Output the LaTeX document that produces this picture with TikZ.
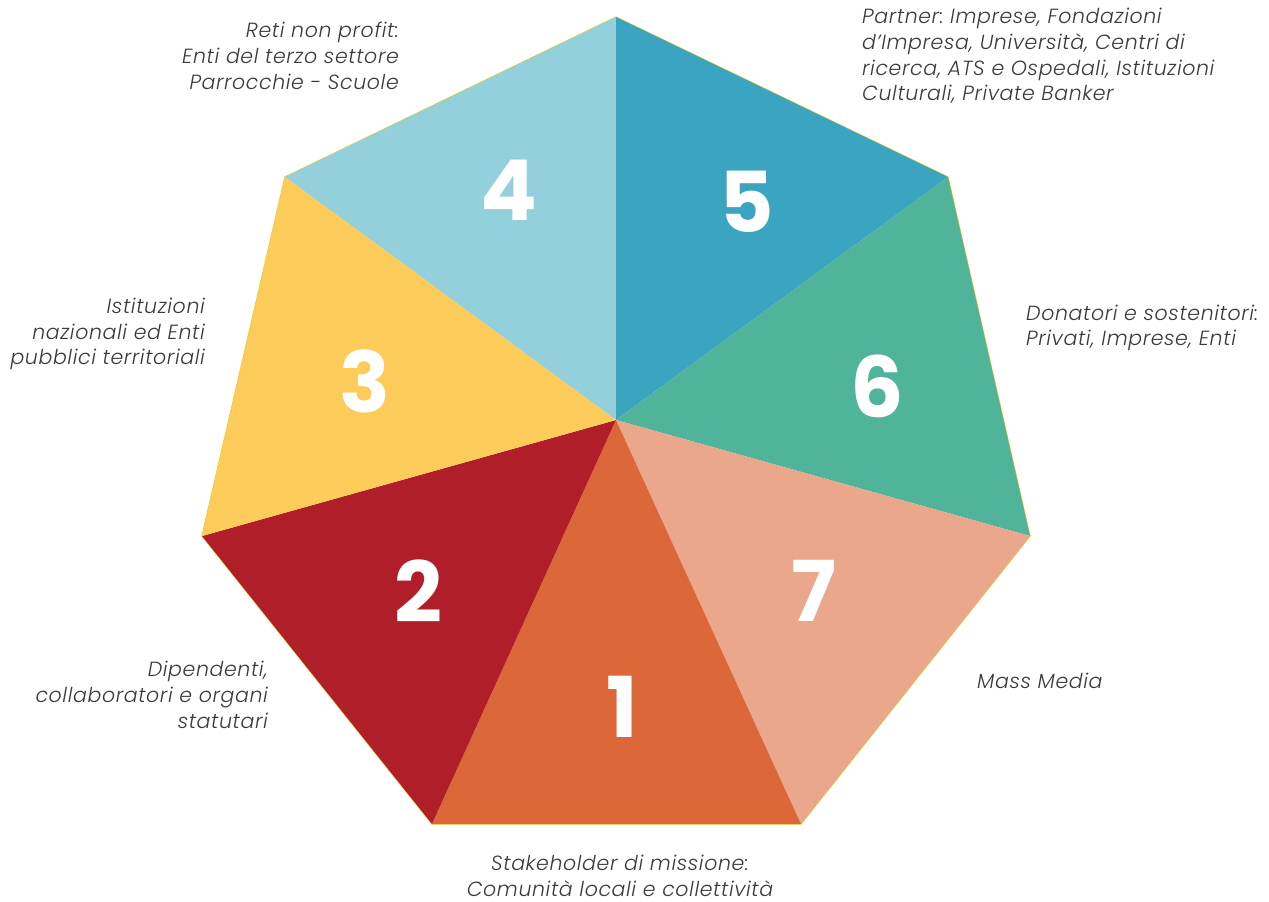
\documentclass[tikz,border=0pt]{standalone}
\usepackage{fontspec}
\setmainfont{Poppins}[ItalicFont={Poppins Light Italic},ItalicFeatures={LetterSpace=3}]
\newfontfamily\numfont{Poppins}[UprightFont={Poppins Bold}]
\frenchspacing
\definecolor{cfour}{HTML}{93D0DB}
\definecolor{cfive}{HTML}{3BA5C1}
\definecolor{csix}{HTML}{50B49B}
\definecolor{cseven}{HTML}{EAA78C}
\definecolor{cone}{HTML}{DC6839}
\definecolor{ctwo}{HTML}{B01F29}
\definecolor{cthree}{HTML}{FDCB5A}
\definecolor{edgey}{HTML}{E6D02A}
\definecolor{txt}{HTML}{3A3A3A}
\begin{document}
\begin{tikzpicture}[x=1pt,y=-1pt,
  num/.style={text=white,font=\numfont\fontsize{84}{84}\selectfont,inner sep=0pt},
  lbl/.style={text=txt,font=\itshape\fontsize{20.5}{25.7}\selectfont,inner sep=0pt},
  rim/.style={draw=edgey,line width=1.2pt,line join=miter}]
\useasboundingbox (0,0) rectangle (1269,902);
\coordinate (O) at (616,420);
\coordinate (V0) at (616,17);
\coordinate (V1) at (948,177);
\coordinate (V2) at (1030,536);
\coordinate (V3) at (801,824);
\coordinate (V4) at (432,824);
\coordinate (V5) at (202,536);
\coordinate (V6) at (285,177);
\draw[rim] (V0) -- (V1) -- (V2) -- (V3) -- (V4) -- (V5) -- (V6) -- cycle;
\fill[cfour] (O) -- (V6) -- (V0) -- cycle;
\fill[cfive] (O) -- (V0) -- (V1) -- cycle;
\fill[csix] (O) -- (V1) -- (V2) -- cycle;
\fill[cseven] (O) -- (V2) -- (V3) -- cycle;
\fill[cone] (O) -- (V3) -- (V4) -- cycle;
\fill[ctwo] (O) -- (V4) -- (V5) -- cycle;
\fill[cthree] (O) -- (V5) -- (V6) -- cycle;
\node[num] (n4) at (509,190) {4};
\node[num] (n5) at (747,202) {5};
\node[num] (n6) at (877,386) {6};
\node[num] (n7) at (814,591) {7};
\node[num] (n1) at (622,707) {1};
\node[num] (n2) at (418,591) {2};
\node[num] (n3) at (365,381) {3};
\node[lbl,align=right,anchor=east] (l4) at (399,56) {Reti non profit:\\Enti del terzo settore\\Parrocchie - Scuole};
\node[lbl,align=left,anchor=west] (l5) at (862,56) {Partner: Imprese, Fondazioni\\d’Impresa, Università, Centri di\\ricerca, ATS e Ospedali, Istituzioni\\Culturali, Private Banker};
\node[lbl,align=left,anchor=west] (l6) at (1026,328) {Donatori e sostenitori:\\Privati, Imprese, Enti};
\node[lbl,align=left,anchor=west] (l7) at (977,681) {Mass Media};
\node[lbl,align=center,anchor=center] (l1) at (620,876) {Stakeholder di missione:\\Comunità locali e collettività};
\node[lbl,align=right,anchor=east] (l2) at (268,695) {Dipendenti,\\collaboratori e organi\\statutari};
\node[lbl,align=right,anchor=east] (l3) at (205,334) {Istituzioni\\nazionali ed Enti\\pubblici territoriali};
\end{tikzpicture}
\end{document}
